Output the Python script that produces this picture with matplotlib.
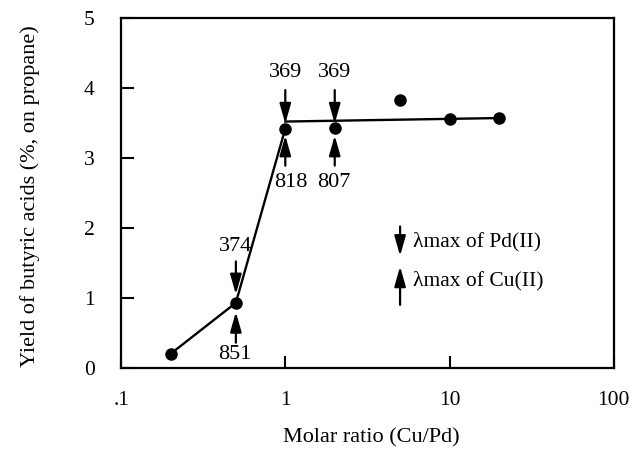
import matplotlib
matplotlib.use("Agg")
import matplotlib.pyplot as plt

plt.rcParams['font.family'] = ['Liberation Serif', 'DejaVu Serif']

# data
ratio = [0.2, 0.5, 1, 2, 5, 10, 20]
yield_pct = [0.2, 0.93, 3.42, 3.43, 3.83, 3.55, 3.57]
rise_x = [0.2, 0.5, 1]
rise_y = [0.2, 0.93, 3.42]
plateau_x = [1, 20]
plateau_y = [3.52, 3.57]
# annotations: x, Pd(II) label, Cu(II) label
ann_x = [0.5, 1, 2]
pd_labels = ["374", "369", "369"]
cu_labels = ["851", "818", "807"]
xtick_vals = [0.1, 1, 10, 100]
xtick_labels = [".1", "1", "10", "100"]
ytick_vals = [0, 1, 2, 3, 4, 5]

fig = plt.figure(figsize=(6.34, 4.61), dpi=100)
ax = fig.add_axes([0.191, 0.202, 0.777, 0.759])
ax.set_xscale('log')
ax.set_xlim(0.1, 100)
ax.set_ylim(0, 5)

ax.plot(rise_x, rise_y, color='black', lw=1.7)
ax.plot(plateau_x, plateau_y, color='black', lw=1.7)
ax.plot(ratio, yield_pct, 'o', color='black', ms=8)

arrow_kw = dict(arrowstyle='-|>,head_length=0.6,head_width=0.17', color='black', lw=1.6,
                mutation_scale=20, shrinkA=0, shrinkB=0)
down_offsets = {0.5: (1.52, 1.05, 1.74), 1: (3.97, 3.49, 4.22), 2: (3.97, 3.49, 4.22)}
up_offsets = {0.5: (0.36, 0.80, 0.19), 1: (2.89, 3.32, 2.65), 2: (2.89, 3.32, 2.65)}
cu_shift = {0.5: 0.98, 1: 1.08, 2: 0.99}
for x, pl, cl in zip(ann_x, pd_labels, cu_labels):
    s, e, t = down_offsets[x]
    ax.annotate('', xy=(x, e), xytext=(x, s), arrowprops=arrow_kw)
    ax.text(x, t, pl, ha='center', va='center', fontsize=16)
    s, e, t = up_offsets[x]
    ax.annotate('', xy=(x, e), xytext=(x, s), arrowprops=arrow_kw)
    ax.text(x * cu_shift[x], t, cl, ha='center', va='center', fontsize=16)

# legend
ax.annotate('', xy=(5.0, 1.6), xytext=(5.0, 2.02), arrowprops=arrow_kw)
ax.text(6.0, 1.8, 'λmax of Pd(II)', ha='left', va='center', fontsize=15.5)
ax.annotate('', xy=(5.0, 1.45), xytext=(5.0, 0.9), arrowprops=arrow_kw)
ax.text(6.0, 1.24, 'λmax of Cu(II)', ha='left', va='center', fontsize=15.5)

ax.set_xticks(xtick_vals)
ax.set_xticklabels(xtick_labels)
ax.xaxis.set_minor_locator(matplotlib.ticker.NullLocator())
ax.set_yticks(ytick_vals)
ax.tick_params(direction='in', length=9, width=1.5, labelsize=15.5)
ax.tick_params(axis='x', pad=17)
ax.tick_params(axis='y', pad=19)
for sp in ax.spines.values():
    sp.set_linewidth(1.6)

fig.text(371/634, 1 - 438/461, 'Molar ratio (Cu/Pd)', ha='center', va='center', fontsize=16)
fig.text(30/634, 1 - 196/461, 'Yield of butyric acids (%, on propane)', ha='center', va='center',
         rotation=90, fontsize=16)

fig.savefig('out.png', dpi=100)
